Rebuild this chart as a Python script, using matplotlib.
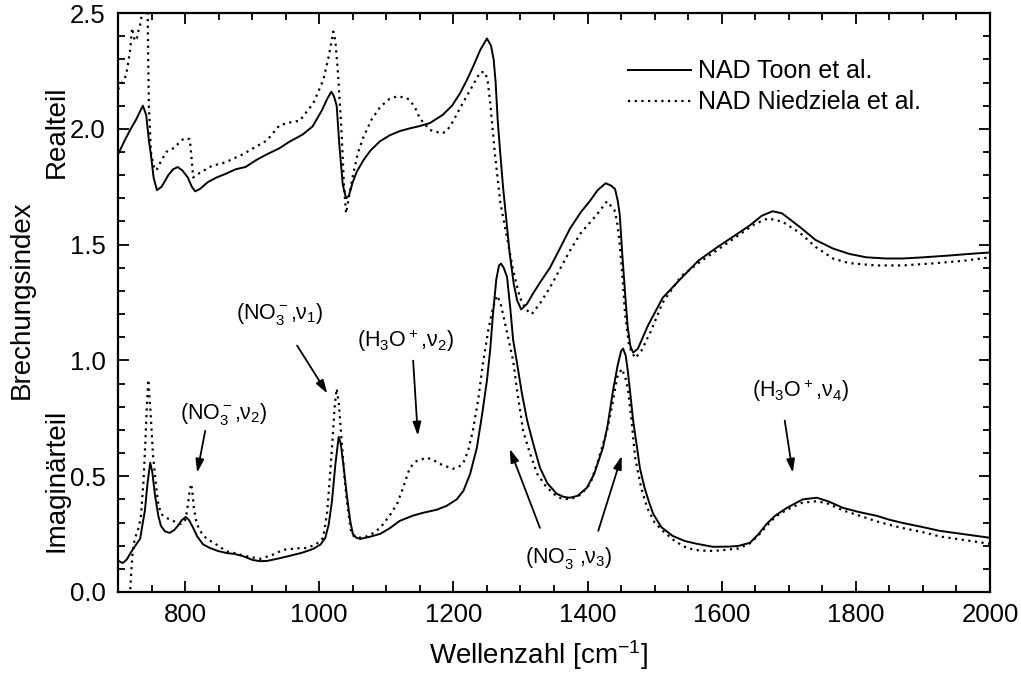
import numpy as np
import matplotlib
matplotlib.use("Agg")
import matplotlib.pyplot as plt
from matplotlib.ticker import MultipleLocator

plt.rcParams['font.family'] = ['Liberation Sans', 'DejaVu Sans']
plt.rcParams['mathtext.fontset'] = 'custom'
plt.rcParams['mathtext.rm'] = 'Liberation Sans'
plt.rcParams['mathtext.it'] = 'Liberation Sans'
plt.rcParams['mathtext.bf'] = 'Liberation Sans:bold'

# Realteil, Toon et al.
wn_toon_re = [700, 710, 719, 727, 732, 737, 742, 746, 749, 753, 758, 765, 775, 782, 789, 796, 804, 810,
              815, 822, 834, 847, 860, 875, 890, 906, 922, 940, 956, 975, 990, 1004, 1012, 1018, 1022,
              1026, 1030, 1035, 1040, 1044, 1050, 1056, 1066, 1076, 1090, 1105, 1120, 1135, 1150, 1165,
              1184, 1198, 1210, 1220, 1229, 1240, 1250, 1256, 1260, 1263, 1266, 1270, 1274, 1284, 1290,
              1295, 1301, 1310, 1319, 1330, 1344, 1360, 1374, 1390, 1404, 1415, 1427, 1435, 1441, 1445,
              1448, 1452, 1456, 1460, 1464, 1468, 1475, 1490, 1512, 1538, 1565, 1593, 1620, 1642, 1660,
              1676, 1690, 1717, 1740, 1766, 1790, 1816, 1845, 1870, 1900, 1940, 1970, 2000]
n_toon_re = [1.89, 1.95, 2.00, 2.04, 2.07, 2.10, 2.06, 1.95, 1.89, 1.79, 1.735, 1.75, 1.80, 1.825, 1.835,
             1.82, 1.79, 1.75, 1.73, 1.74, 1.77, 1.79, 1.805, 1.825, 1.835, 1.865, 1.89, 1.915, 1.945,
             1.975, 2.01, 2.08, 2.13, 2.16, 2.14, 2.10, 1.93, 1.76, 1.70, 1.71, 1.77, 1.815, 1.865, 1.905,
             1.945, 1.972, 1.99, 2.002, 2.012, 2.025, 2.06, 2.10, 2.154, 2.21, 2.266, 2.34, 2.39, 2.36,
             2.30, 2.20, 2.04, 1.89, 1.75, 1.46, 1.33, 1.26, 1.22, 1.245, 1.29, 1.34, 1.40, 1.49, 1.57,
             1.64, 1.69, 1.735, 1.765, 1.755, 1.74, 1.69, 1.63, 1.45, 1.29, 1.14, 1.06, 1.034, 1.05, 1.15,
             1.27, 1.35, 1.43, 1.488, 1.54, 1.583, 1.625, 1.644, 1.635, 1.575, 1.52, 1.483, 1.46, 1.445,
             1.44, 1.44, 1.445, 1.453, 1.46, 1.466]

# Realteil, Niedziela et al.
wn_nied_re = [700, 706, 712, 716, 718, 721, 725, 728, 731, 734, 737, 741, 744, 745, 746, 749, 753, 757,
              764, 772, 785, 794, 800, 807, 810, 812, 817, 822, 840, 860, 886, 904, 922, 941, 960, 971,
              991, 1006, 1014, 1021, 1024, 1028, 1033, 1037, 1040, 1044, 1051, 1058, 1066, 1078, 1091,
              1105, 1116, 1128, 1135, 1143, 1150, 1165, 1183, 1190, 1199, 1210, 1225, 1240, 1247, 1251,
              1255, 1262, 1270, 1280, 1289, 1299, 1308, 1317, 1330, 1344, 1360, 1374, 1390, 1414, 1429,
              1440, 1444, 1448, 1451, 1456, 1462, 1471, 1480, 1495, 1512, 1540, 1570, 1600, 1630, 1650,
              1669, 1690, 1717, 1740, 1766, 1790, 1830, 1870, 1920, 1960, 2000]
n_nied_re = [2.17, 2.20, 2.23, 2.30, 2.34, 2.435, 2.38, 2.39, 2.43, 2.46, 2.55, 2.60, 2.55, 2.30, 2.10,
             1.90, 1.84, 1.82, 1.86, 1.90, 1.92, 1.95, 1.96, 1.955, 1.86, 1.79, 1.80, 1.81, 1.84, 1.855,
             1.89, 1.92, 1.95, 2.016, 2.03, 2.035, 2.11, 2.21, 2.31, 2.42, 2.38, 2.24, 2.00, 1.75, 1.635,
             1.70, 1.81, 1.90, 1.965, 2.04, 2.095, 2.13, 2.14, 2.135, 2.125, 2.09, 2.045, 1.995, 1.98,
             1.99, 2.03, 2.09, 2.167, 2.245, 2.245, 2.21, 2.11, 1.89, 1.68, 1.53, 1.39, 1.272, 1.22, 1.20,
             1.25, 1.315, 1.40, 1.475, 1.55, 1.63, 1.687, 1.65, 1.60, 1.50, 1.40, 1.20, 1.06, 1.01, 1.04,
             1.13, 1.25, 1.365, 1.43, 1.49, 1.55, 1.59, 1.613, 1.60, 1.55, 1.49, 1.44, 1.42, 1.41, 1.41,
             1.42, 1.43, 1.445]

# Imaginärteil, Toon et al.
wn_toon_im = [700, 707, 713, 719, 727, 733, 737, 740, 744, 748, 751, 755, 760, 764, 770, 777, 784, 789,
              795, 801, 806, 812, 818, 827, 837, 849, 862, 874, 886, 901, 912, 922, 940, 956, 975, 991,
              1002, 1009, 1014, 1019, 1024, 1029, 1032, 1036, 1041, 1046, 1050, 1055, 1061, 1075, 1091,
              1105, 1120, 1140, 1155, 1175, 1190, 1205, 1215, 1225, 1235, 1243, 1250, 1255, 1259, 1264,
              1268, 1271, 1275, 1280, 1285, 1289, 1295, 1302, 1310, 1320, 1329, 1340, 1354, 1365, 1374,
              1385, 1399, 1410, 1418, 1423, 1430, 1438, 1445, 1450, 1453, 1457, 1460, 1464, 1468, 1474,
              1478, 1485, 1492, 1498, 1510, 1527, 1545, 1563, 1587, 1612, 1625, 1642, 1655, 1667, 1680,
              1697, 1721, 1742, 1760, 1781, 1805, 1831, 1850, 1870, 1900, 1925, 1960, 2000]
k_toon_im = [0.135, 0.125, 0.14, 0.17, 0.205, 0.23, 0.30, 0.35, 0.47, 0.558, 0.52, 0.42, 0.33, 0.285,
             0.262, 0.255, 0.268, 0.285, 0.31, 0.324, 0.31, 0.277, 0.24, 0.205, 0.19, 0.177, 0.168, 0.164,
             0.155, 0.138, 0.133, 0.134, 0.145, 0.156, 0.17, 0.186, 0.205, 0.234, 0.29, 0.393, 0.55, 0.67,
             0.64, 0.55, 0.42, 0.31, 0.251, 0.235, 0.229, 0.238, 0.251, 0.275, 0.307, 0.33, 0.342, 0.355,
             0.372, 0.40, 0.437, 0.51, 0.623, 0.77, 0.913, 1.05, 1.20, 1.35, 1.41, 1.418, 1.40, 1.36,
             1.22, 1.09, 0.986, 0.86, 0.74, 0.63, 0.537, 0.47, 0.424, 0.41, 0.407, 0.415, 0.45, 0.51,
             0.58, 0.623, 0.72, 0.87, 0.98, 1.04, 1.051, 1.02, 0.955, 0.85, 0.74, 0.62, 0.536, 0.45,
             0.385, 0.337, 0.28, 0.242, 0.22, 0.208, 0.195, 0.196, 0.199, 0.212, 0.25, 0.294, 0.33,
             0.363, 0.40, 0.407, 0.39, 0.363, 0.345, 0.329, 0.312, 0.298, 0.28, 0.264, 0.25, 0.234]

# Imaginärteil, Niedziela et al.
wn_nied_im = [700, 712, 718, 720, 722, 725, 730, 734, 738, 740, 743, 745, 748, 752, 757, 760, 764, 772,
              782, 794, 800, 803, 806, 809, 811, 813, 817, 822, 832, 845, 862, 871, 890, 912, 930, 946,
              965, 981, 995, 1006, 1012, 1016, 1019, 1023, 1026, 1029, 1034, 1038, 1043, 1047, 1051,
              1058, 1066, 1078, 1091, 1105, 1116, 1125, 1135, 1145, 1160, 1170, 1180, 1199, 1208, 1215,
              1222, 1229, 1237, 1244, 1252, 1259, 1265, 1270, 1274, 1280, 1289, 1296, 1304, 1314, 1325,
              1337, 1349, 1360, 1374, 1390, 1404, 1415, 1429, 1437, 1444, 1451, 1456, 1460, 1466, 1471,
              1480, 1489, 1500, 1512, 1530, 1548, 1565, 1582, 1600, 1625, 1642, 1655, 1667, 1680, 1697,
              1720, 1742, 1760, 1781, 1805, 1831, 1850, 1870, 1900, 1925, 1960, 2000]
k_nied_im = [-0.3, -0.15, 0.0, 0.10, 0.18, 0.23, 0.27, 0.32, 0.48, 0.597, 0.80, 0.917, 0.80, 0.597, 0.45,
             0.38, 0.337, 0.32, 0.307, 0.294, 0.31, 0.35, 0.42, 0.467, 0.43, 0.363, 0.30, 0.264, 0.23,
             0.208, 0.175, 0.17, 0.155, 0.143, 0.16, 0.182, 0.188, 0.19, 0.205, 0.234, 0.35, 0.50, 0.62,
             0.80, 0.878, 0.82, 0.63, 0.48, 0.35, 0.27, 0.242, 0.235, 0.234, 0.25, 0.277, 0.33, 0.38,
             0.45, 0.536, 0.565, 0.58, 0.57, 0.553, 0.532, 0.54, 0.558, 0.61, 0.696, 0.83, 0.986, 1.13,
             1.228, 1.28, 1.25, 1.20, 1.12, 1.00, 0.85, 0.696, 0.60, 0.51, 0.46, 0.424, 0.405, 0.40,
             0.42, 0.467, 0.56, 0.696, 0.81, 0.926, 0.964, 0.93, 0.882, 0.73, 0.58, 0.45, 0.363, 0.30,
             0.264, 0.22, 0.19, 0.18, 0.177, 0.18, 0.188, 0.21, 0.245, 0.285, 0.325, 0.355, 0.385,
             0.392, 0.38, 0.352, 0.33, 0.305, 0.29, 0.276, 0.258, 0.24, 0.225, 0.208]

fig = plt.figure(figsize=(10.21, 6.75), dpi=100)
ax = fig.add_axes([0.1156, 0.123, 0.854, 0.8577])

dots = (0, (1, 2))
ax.plot(wn_toon_re, n_toon_re, color='black', lw=1.4, label='NAD Toon et al.')
ax.plot(wn_nied_re, n_nied_re, color='black', lw=1.6, linestyle=dots, label='NAD Niedziela et al.')
ax.plot(wn_toon_im, k_toon_im, color='black', lw=1.4)
ax.plot(wn_nied_im, k_nied_im, color='black', lw=1.6, linestyle=dots)

ax.set_xlim(700, 2000)
ax.set_ylim(0, 2.5)
ax.xaxis.set_major_locator(MultipleLocator(200))
ax.xaxis.set_minor_locator(MultipleLocator(50))
ax.yaxis.set_major_locator(MultipleLocator(0.5))
ax.yaxis.set_minor_locator(MultipleLocator(0.1))
ax.yaxis.set_major_formatter(matplotlib.ticker.FormatStrFormatter('%.1f'))
ax.tick_params(which='both', direction='in', top=True, right=True, width=1.3)
ax.tick_params(which='major', length=8, labelsize=18.5)
ax.tick_params(which='minor', length=5)
ax.tick_params(axis='y', which='major', pad=9)
ax.tick_params(axis='x', which='major', pad=8)
for s in ax.spines.values():
    s.set_linewidth(1.6)

fig.text(539 / 1021, 1 - 655 / 675, 'Wellenzahl [cm$^{-1}$]', fontsize=20, ha='center', va='center')
fig.text(22 / 1021, 1 - 300 / 675, 'Brechungsindex', fontsize=20, rotation=90, ha='center', va='center')
fig.text(57 / 1021, 1 - 132 / 675, 'Realteil', fontsize=20, rotation=90, ha='center', va='center')
fig.text(56 / 1021, 1 - 480 / 675, 'Imaginärteil', fontsize=20, rotation=90, ha='center', va='center')

arrow = dict(arrowstyle='-|>,head_length=0.8,head_width=0.25', color='black', lw=1.3,
             shrinkA=0, shrinkB=0)
# (label, text pos, arrow tail, arrow head)
notes = [
    ('(NO$_3^-$,ν$_1$)', (941, 1.202), [((967, 1.064), (1012, 0.857))]),
    ('(NO$_3^-$,ν$_2$)', (858, 0.770), [((830, 0.696), (818, 0.515))]),
    ('(H$_3$O$^+$,ν$_2$)', (1129, 1.086), [((1140, 0.999), (1147, 0.675))]),
    ('(NO$_3^-$,ν$_3$)', (1372, 0.147), [((1329, 0.277), (1284, 0.618)),
                                        ((1416, 0.264), (1451, 0.588))]),
    ('(H$_3$O$^+$,ν$_4$)', (1718, 0.869), [((1694, 0.74), (1706, 0.515))]),
]
for label, pos, arrows in notes:
    ax.text(pos[0], pos[1], label, fontsize=15.5, ha='center', va='center')
    for tail, head in arrows:
        ax.annotate('', xy=head, xytext=tail, arrowprops=arrow)

ax.legend(loc='upper left', bbox_to_anchor=(0.585, 0.92), frameon=False, fontsize=18,
          handlelength=2.5, handletextpad=0.28, borderpad=0, borderaxespad=0, labelspacing=0.28)

fig.savefig('out.png', dpi=100)
